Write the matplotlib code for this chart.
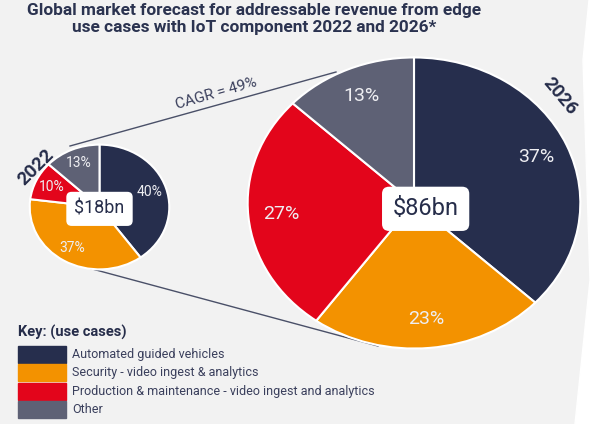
import matplotlib.pyplot as plt
from matplotlib.patches import Rectangle, Polygon

# data
categories = ['Automated guided vehicles',
              'Security - video ingest & analytics',
              'Production & maintenance - video ingest and analytics',
              'Other']
colors = ['#262e4d', '#f39200', '#e3051b', '#5e6175']
years = ['2022', '2026']
share_2022 = [40, 37, 10, 13]
share_2026 = [37, 23, 27, 13]
totals_bn = [18, 86]
cagr = 49

plt.rcParams['font.family'] = ['Roboto', 'DejaVu Sans']
navy = '#262d4a'

fig = plt.figure(figsize=(5.96, 4.24), dpi=100)

# background in pixel coordinates
bg = fig.add_axes([0, 0, 1, 1])
bg.set_xlim(0, 596)
bg.set_ylim(424, 0)
bg.axis('off')
bg.add_patch(Rectangle((0, 0), 596, 424, color='#f2f2f2', zorder=0))
bg.add_patch(Polygon([(589, 0), (583, 60), (590, 280), (575, 424), (596, 424), (596, 0)],
                     color='white', zorder=1))

bg.text(254, 3, 'Global market forecast for addressable revenue from edge\n'
        'use cases with IoT component 2022 and 2026*',
        ha='center', va='top', fontsize=12.4, fontweight='bold', color='#2b3350',
        linespacing=1.15)

# connector lines
bg.plot([70, 336], [146, 72], color='#4a5068', lw=1, zorder=2)
bg.plot([70, 378], [263, 346], color='#4a5068', lw=1, zorder=2)
bg.text(216, 94, f'CAGR = {cagr}%', rotation=16, ha='center', va='center',
        fontsize=11, color='#3a3f5c')

bg.text(36, 167, years[0], rotation=45, ha='center', va='center',
        fontsize=13.5, fontweight='bold', color=navy)
bg.text(560, 96, years[1], rotation=-50, ha='center', va='center',
        fontsize=13.5, fontweight='bold', color=navy)

# key
bg.text(18, 332, 'Key: (use cases)', ha='left', va='center',
        fontsize=10.5, fontweight='bold', color=navy)
for i, (cat, col) in enumerate(zip(categories, colors)):
    y = 346 + i * 18.3
    bg.add_patch(Rectangle((18, y), 48, 17, color=col, zorder=2))
    bg.text(72, y + 8.5, cat, ha='left', va='center', fontsize=9, color='#3a3f5c')


def draw_pie(rect, values, total, pct_size, pct_dist, box_size, box_pos):
    ax = fig.add_axes(rect)
    ax.pie(values, colors=colors, startangle=90, counterclock=False,
           autopct=lambda p: f'{p:.0f}%', pctdistance=pct_dist,
           wedgeprops=dict(edgecolor='white', linewidth=1.5),
           textprops=dict(color='#eeeef2', fontsize=pct_size))
    ax.set_aspect('auto')
    ax.set_xlim(-1.01, 1.01)
    ax.set_ylim(-1.01, 1.01)
    ax.text(box_pos[0], box_pos[1], f'${total}bn', ha='center', va='center',
            fontsize=box_size, color=navy,
            bbox=dict(boxstyle='round,pad=0.45,rounding_size=0.3', fc='white', ec='none'))
    return ax


draw_pie([29 / 596, (424 - 270) / 424, 141 / 596, 126 / 424],
         share_2022, totals_bn[0], 10, 0.76, 12.9, (0.0, -0.03))
draw_pie([246 / 596, (424 - 350) / 424, 336 / 596, 294 / 424],
         share_2026, totals_bn[1], 14, 0.8, 17, (0.07, -0.04))

fig.savefig('out.png', dpi=100)
